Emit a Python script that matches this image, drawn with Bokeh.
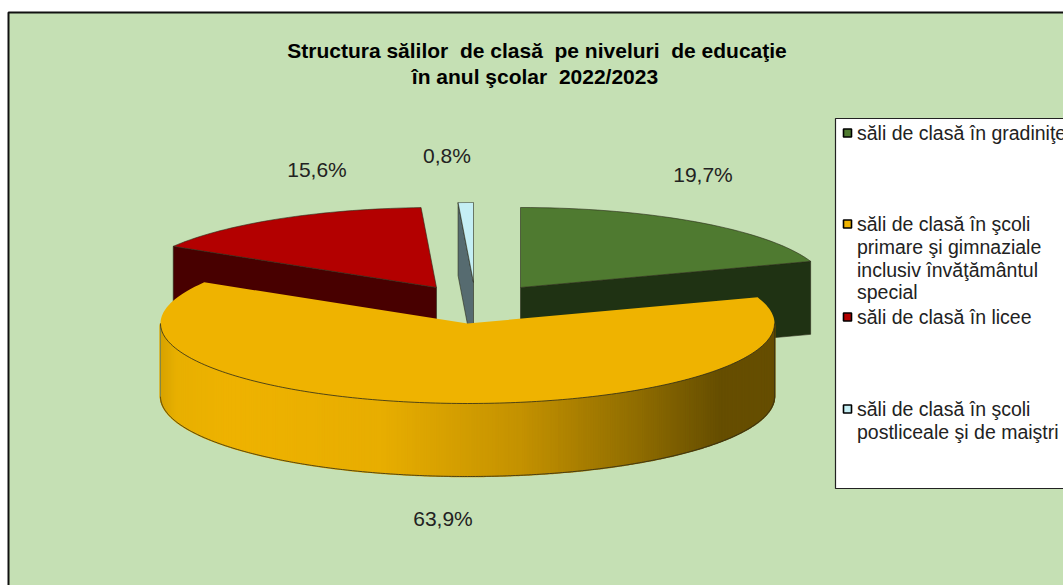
import math
import numpy as np
from bokeh.plotting import figure
from bokeh.models import Range1d
from bokeh.core.properties import value
from bokeh.embed import file_html
from bokeh.resources import INLINE

# ---- data
categories = ["săli de clasă în gradiniţe",
              "săli de clasă în şcoli\nprimare şi gimnaziale\ninclusiv învăţământul\nspecial",
              "săli de clasă în licee",
              "săli de clasă în şcoli\npostliceale şi de maiştri"]
shares = [19.7, 63.9, 15.6, 0.8]
title_lines = ["Structura sălilor\u00a0 de clasă\u00a0 pe niveluri\u00a0 de educaţie",
               "în anul şcolar\u00a0 2022/2023"]

# ---- styles / layout
top_colors = ["#4F7A30", "#EFB300", "#B30000", "#C5EFF5"]
wall_colors = ["#1F3213", None, "#480000", "#566B70"]
bg = "#C5E0B4"
edge = "#2A2A1A"
FONT = "Liberation Sans"
CX, CY, A, B, H = 467, 323, 307, 80, 73
offsets = [(53, -36), (0, 0), (-31, -36), (6, -41)]
label_pos = [(702.5, 174), (442.5, 518), (316.5, 169), (446.5, 155)]
legend_y = [[132.5], [223.5, 246.5, 269.5, 291.5], [316.5], [408.5, 431.5]]
grad_x = [160, 175, 230, 380, 520, 640, 720, 775]
grad_r = [0xD8, 0xE8, 0xEF, 0xE8, 0xC4, 0x8E, 0x66, 0x66]
grad_g = [0xA4, 0xB0, 0xB3, 0xAE, 0x92, 0x6C, 0x4E, 0x4E]
grad_b = [0x00, 0x00, 0x00, 0x00, 0x00, 0x00, 0x00, 0x00]

total = sum(shares)
bounds = np.cumsum([0] + shares) / total * 360.0


def proj(deg, off=(0, 0), drop=0):
    t = np.radians(deg)
    return CX + off[0] + A * np.sin(t), CY + off[1] - B * np.cos(t) + drop


p = figure(width=1063, height=585, x_range=Range1d(0, 1063), y_range=Range1d(585, 0),
           toolbar_location=None, output_backend="svg", min_border=0,
           outline_line_color=None, background_fill_color="white",
           border_fill_color="white")
p.axis.visible = False
p.grid.visible = False

# chart area
p.quad(left=[8], right=[1100], top=[12], bottom=[640], fill_color=bg,
       line_color="#111111", line_width=2)

# back slices: walls then top faces (cyan, red, green), orange last
for i in (3, 2, 0):
    a0, a1 = bounds[i], bounds[i + 1]
    off = offsets[i]
    ax, ay = CX + off[0], CY + off[1]
    rim_deg = a0 if i != 0 else a1
    rx, ry = proj(rim_deg, off)
    p.patch([rx, ax, ax, rx], [ry, ay, ay + H, ry + H], fill_color=wall_colors[i],
            line_color=edge, line_width=0.6)
    th = np.linspace(a0, a1, 40)
    xs, ys = proj(th, off)
    p.patch(list(xs) + [ax], list(ys) + [ay], fill_color=top_colors[i],
            line_color=edge, line_width=0.6)

# orange outer wall with horizontal gradient
a0, a1 = bounds[1], bounds[2]
steps = np.linspace(90, 270, 361)
sx, sy = [], []
cols = []
for d0, d1 in zip(steps[:-1], steps[1:]):
    x0, y0 = proj(d0)
    x1, y1 = proj(d1)
    sx.append([x0, x1, x1, x0])
    sy.append([y0, y1, y1 + H, y0 + H])
    xm = (x0 + x1) / 2
    r = int(np.interp(xm, grad_x, grad_r))
    g = int(np.interp(xm, grad_x, grad_g))
    b = int(np.interp(xm, grad_x, grad_b))
    cols.append(f"#{r:02X}{g:02X}{b:02X}")
p.patches(sx, sy, fill_color=cols, line_color=cols, line_width=1.5)
bx, by = proj(steps, drop=H)
p.line(bx, by, line_color=edge, line_width=0.8)
p.line([CX + A, CX + A], [CY, CY + H], line_color=edge, line_width=0.6)
p.line([CX - A, CX - A], [CY, CY + H], line_color="#6E7F55", line_width=0.8)

# orange top face
th = np.linspace(a0, a1, 200)
xs, ys = proj(th)
p.patch(list(xs) + [CX], list(ys) + [CY], fill_color=top_colors[1], line_color=None)
p.line(*proj(np.linspace(90, 270, 181)), line_color=edge, line_width=0.8)

# data labels
labels = [f"{v:.1f}%".replace(".", ",") for v in shares]
p.text([q[0] for q in label_pos], [q[1] for q in label_pos], text=labels,
       text_font=value(FONT), text_font_size="21px", text_color="#222222",
       text_align="center", text_baseline="middle")

# title
p.text([536.5, 534.5], [50, 76], text=title_lines, text_font=value(FONT),
       text_font_size="21px", text_font_style="bold", text_color="#000000",
       text_align="center", text_baseline="middle")

# legend
p.quad(left=[835], right=[1100], top=[118], bottom=[488], fill_color="white",
       line_color="#222222", line_width=1.2)
for i, cat in enumerate(categories):
    rows = cat.split("\n")
    ysr = legend_y[i]
    p.scatter([847], [ysr[0]], marker="square", size=8, fill_color=top_colors[i],
              line_color="black", line_width=1.6)
    p.text([856.5] * len(rows), ysr, text=rows, text_font=value(FONT),
           text_font_size="19.5px", text_color="#222222", text_align="left",
           text_baseline="middle")

open("out.html", "w").write(file_html(p, INLINE))
